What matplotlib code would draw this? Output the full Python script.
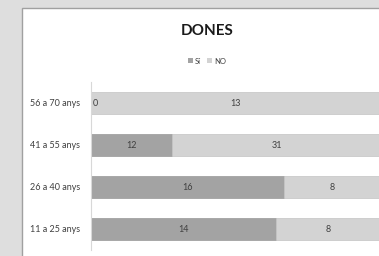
import numpy as np
import matplotlib.pyplot as plt
from matplotlib.patches import Rectangle, Patch

# data (counts), bottom to top
categories = ['11 a 25 anys', '26 a 40 anys', '41 a 55 anys', '56 a 70 anys']
si_values = [14, 16, 12, 0]
no_values = [8, 8, 31, 13]
title = 'DONES'

plt.rcParams['font.family'] = ['Lato', 'DejaVu Sans']

si = np.array(si_values, dtype=float)
no = np.array(no_values, dtype=float)
total = si + no
si_frac = si / total
no_frac = no / total

fig = plt.figure(figsize=(3.79, 2.56), dpi=100, facecolor='#dedede')
# white chart panel
fig.patches.append(Rectangle((22 / 379, -0.1), 1.0, 1 - 8 / 256 + 0.1, transform=fig.transFigure,
                             facecolor='white', edgecolor='#a0a0a0', linewidth=1.0, zorder=-5))

ax = fig.add_axes([91 / 379, 6 / 256, 290 / 379, 168 / 256])
ax.set_facecolor('none')
y = np.arange(len(categories))
c_si = '#a3a3a3'
c_no = '#d3d3d3'
ax.barh(y, si_frac, height=0.52, color=c_si, edgecolor='#989898', linewidth=0.5)
ax.barh(y, no_frac, left=si_frac, height=0.52, color=c_no, edgecolor='#c4c4c4', linewidth=0.5)

for i in range(len(categories)):
    if si[i] > 0:
        ax.text(si_frac[i] / 2, y[i], str(si_values[i]), ha='center', va='center',
                fontsize=6.5, color='#404040')
    else:
        ax.text(0.005, y[i], '0', ha='left', va='center', fontsize=6.5, color='#404040')
    ax.text(si_frac[i] + no_frac[i] / 2, y[i], str(no_values[i]), ha='center', va='center',
            fontsize=6.5, color='#404040')

ax.set_xlim(0, 1)
ax.set_ylim(-0.5, len(categories) - 0.5)
ax.set_yticks(y)
ax.set_yticklabels(categories, fontsize=6.5, color='#404040')
ax.set_xticks([])
ax.tick_params(axis='y', length=0, pad=8)
for s in ['top', 'right', 'bottom']:
    ax.spines[s].set_visible(False)
ax.spines['left'].set_color('#d8d8d8')
ax.spines['left'].set_linewidth(0.8)

fig.text(207 / 379, 1 - 31 / 256, title, ha='center', va='center', fontsize=11,
         fontweight='bold', color='#1a1a1a')
handles = [Patch(facecolor=c_si, label='Sí'), Patch(facecolor=c_no, label='NO')]
fig.legend(handles=handles, loc='center', bbox_to_anchor=(207 / 379, 1 - 61 / 256), ncol=2,
           frameon=False, fontsize=5.5, handlelength=0.6, handleheight=0.6, handletextpad=0.3,
           columnspacing=0.8, labelcolor='#404040')

fig.savefig('out.png', dpi=100, facecolor=fig.get_facecolor())
